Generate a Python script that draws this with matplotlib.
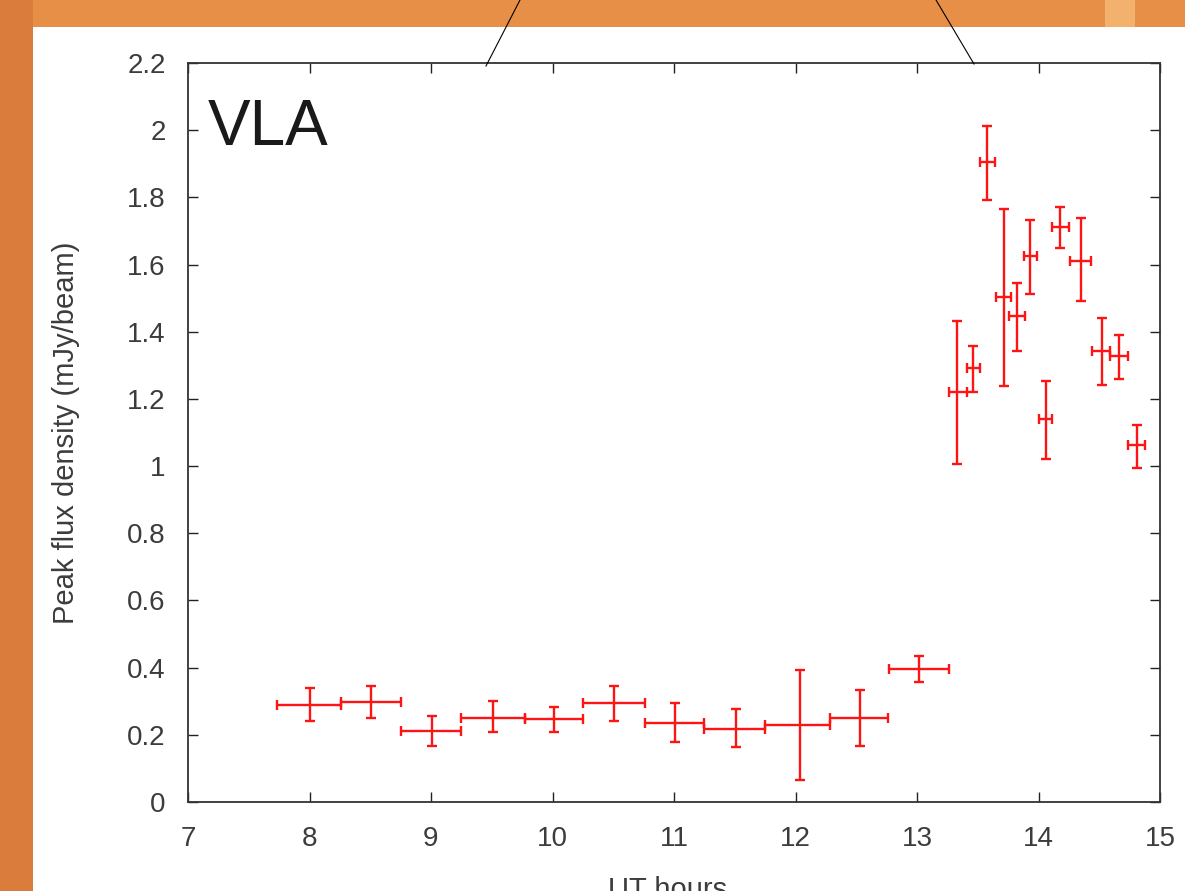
import matplotlib
matplotlib.use('Agg')
import matplotlib.pyplot as plt
from matplotlib.patches import Rectangle
from matplotlib.lines import Line2D

# VLA light curve values
t = [8.00, 8.51, 9.01, 9.51, 10.01, 10.51, 11.01, 11.51, 12.04, 12.53, 13.02,
     13.33, 13.46, 13.58, 13.72, 13.82, 13.93, 14.06, 14.18, 14.35, 14.52, 14.66, 14.81]
t_lo = [7.73, 8.26, 8.75, 9.25, 9.77, 10.25, 10.76, 11.25, 11.75, 12.28, 12.77,
        13.26, 13.41, 13.52, 13.65, 13.76, 13.88, 14.00, 14.11, 14.26, 14.44, 14.59, 14.74]
t_hi = [8.26, 8.75, 9.25, 9.77, 10.25, 10.76, 11.25, 11.75, 12.28, 12.76, 13.26,
        13.41, 13.52, 13.64, 13.77, 13.89, 13.99, 14.11, 14.25, 14.43, 14.59, 14.74, 14.88]
flux = [0.289, 0.297, 0.212, 0.250, 0.246, 0.296, 0.235, 0.217, 0.230, 0.251, 0.396,
        1.222, 1.293, 1.906, 1.503, 1.447, 1.625, 1.140, 1.713, 1.612, 1.344, 1.328, 1.063]
flux_lo = [0.241, 0.251, 0.168, 0.207, 0.207, 0.241, 0.180, 0.163, 0.065, 0.168, 0.356,
           1.006, 1.220, 1.793, 1.237, 1.343, 1.513, 1.021, 1.650, 1.491, 1.242, 1.260, 0.995]
flux_hi = [0.338, 0.346, 0.257, 0.301, 0.284, 0.345, 0.296, 0.278, 0.393, 0.333, 0.435,
           1.432, 1.358, 2.013, 1.765, 1.545, 1.733, 1.253, 1.770, 1.739, 1.440, 1.391, 1.122]

xerr = [[a - b for a, b in zip(t, t_lo)], [b - a for a, b in zip(t, t_hi)]]
yerr = [[a - b for a, b in zip(flux, flux_lo)], [b - a for a, b in zip(flux, flux_hi)]]

plt.rcParams['font.family'] = ['Liberation Sans', 'DejaVu Sans']

fig = plt.figure(figsize=(11.85, 8.91), dpi=100)
fig.patch.set_facecolor('white')
W, H = 1185, 891
grey = '#3c3c3c'

# slide background: orange frame around a white panel
fig.patches.append(Rectangle((0, 1 - 27 / H), 1, 27 / H, transform=fig.transFigure,
                             facecolor='#e88f47', edgecolor='none', zorder=0))
fig.patches.append(Rectangle((1105 / W, 1 - 27 / H), 30 / W, 27 / H, transform=fig.transFigure,
                             facecolor='#f2b26e', edgecolor='none', zorder=0))
fig.patches.append(Rectangle((0, 0), 33 / W, 1, transform=fig.transFigure,
                             facecolor='#da7c3c', edgecolor='none', zorder=0))

# callout lines from above
fig.lines.append(Line2D([520 / W, 486 / W], [1, 1 - 66 / H], transform=fig.transFigure,
                        color='black', lw=0.8))
fig.lines.append(Line2D([936 / W, 974 / W], [1, 1 - 64 / H], transform=fig.transFigure,
                        color='black', lw=0.8))

ax = fig.add_axes([188 / W, 89 / H, 972 / W, 739 / H])
ax.errorbar(t, flux, xerr=xerr, yerr=yerr, fmt='none', ecolor='#ff1414',
            elinewidth=1.7, capsize=3.5, capthick=1.7)

ax.set_xlim(7, 15)
ax.set_ylim(0, 2.2)
ax.set_xticks(range(7, 16))
yt = [round(0.2 * i, 1) for i in range(12)]
ax.set_yticks(yt)
ax.set_yticklabels(['%g' % v for v in yt])
ax.tick_params(direction='in', length=7, width=1, top=True, right=True,
               labelsize=20, colors='#222222', labelcolor=grey)
ax.tick_params(axis='y', pad=16)
ax.tick_params(axis='x', pad=17)
for s in ax.spines.values():
    s.set_linewidth(1.3)
    s.set_color('#333333')

ax.set_ylabel('Peak flux density (mJy/beam)', fontsize=21, color=grey, labelpad=34)
fig.text(668 / W, 1 - 876 / H, 'UT hours', ha='center', va='top', fontsize=21, color=grey)
ax.text(0.02, 0.953, 'VLA', transform=ax.transAxes, ha='left', va='top',
        fontsize=46, color='#1a1a1a')

fig.savefig('out.png', dpi=100, facecolor=fig.get_facecolor())
